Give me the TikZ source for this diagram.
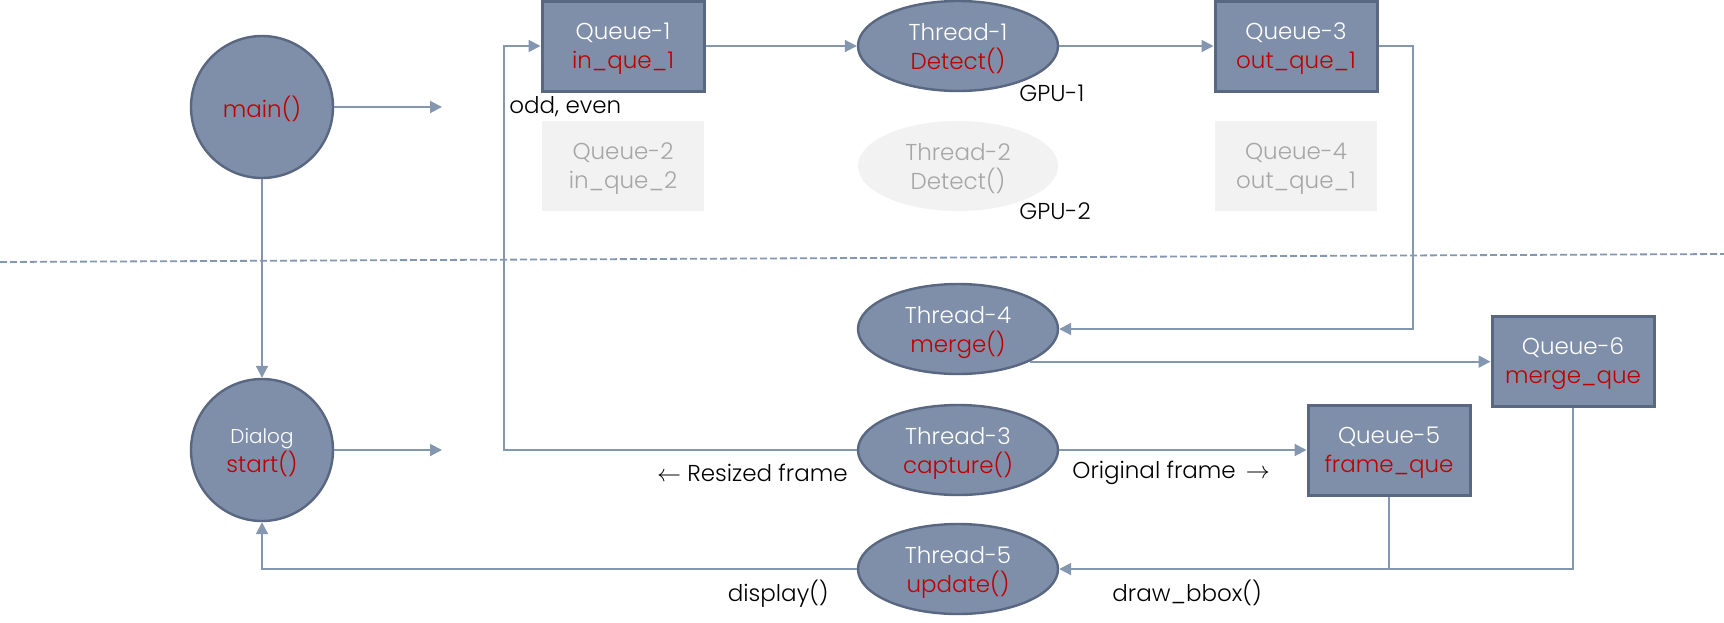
\documentclass[tikz,border=0pt]{standalone}
\usepackage{fontspec}
\setmainfont{Poppins}[UprightFont={* Light}]
\usetikzlibrary{arrows.meta,shapes.geometric}
\definecolor{pagebg}{HTML}{FFFFFF}
\definecolor{textfg}{HTML}{000000}
\definecolor{edge}{HTML}{8497B0}
\definecolor{shapefill}{HTML}{7F8FA9}
\definecolor{shapeline}{HTML}{5A6781}
\definecolor{fnred}{HTML}{C00000}
\definecolor{dimfill}{HTML}{F2F2F2}
\definecolor{dimtext}{HTML}{A6A6A6}
\newcommand{\twoline}[2]{#1\\\textcolor{fnred}{#2}}

\tikzset{
  qbox/.style={rectangle, fill=shapefill, draw=shapeline, line width=1.5pt,
    minimum width=81pt, minimum height=45pt, inner sep=0pt, align=center, text=white,
    text depth=-3.5pt},
  thread/.style={ellipse, fill=shapefill, draw=shapeline, line width=1.2pt,
    minimum width=100pt, minimum height=45pt, inner sep=0pt, align=center, text=white,
    text depth=-3.5pt},
  proc/.style={circle, fill=shapefill, draw=shapeline, line width=1.2pt,
    minimum size=71pt, inner sep=0pt, align=center, text=white, text depth=-2pt},
  dimbox/.style={rectangle, fill=dimfill, minimum width=81pt, minimum height=45pt,
    inner sep=0pt, align=center, text=dimtext, text depth=-3.5pt},
  dimthread/.style={ellipse, fill=dimfill, minimum width=100pt, minimum height=45pt,
    inner sep=0pt, align=center, text=dimtext, text depth=-3.5pt},
  link/.style={edge, line width=1pt, -{Triangle[length=6pt,width=6pt]}},
  plain/.style={edge, line width=1pt},
  note/.style={text=textfg, inner sep=0pt}
}

\begin{document}
\begin{tikzpicture}[
  x=0.5pt,
  y=-0.5pt,
  font=\fontsize{11.5}{14.5}\selectfont,
  line join=miter
]
  \useasboundingbox (0,0) rectangle (1724,622);
  \fill[pagebg] (0,0) rectangle (1724,622);

  % split between the two halves
  \draw[edge, line width=0.9pt, dash pattern=on 3.5pt off 1.5pt] (0,262) -- (1724,254);

  % callers
  \node[proc] (main) at (262,107) {\textcolor{fnred}{main()}};
  \node[proc] (dialog) at (262,450) {{\fontsize{10}{14}\selectfont Dialog}\\\textcolor{fnred}{start()}};
  \coordinate (mainout) at (442,107);
  \coordinate (dialogout) at (442,450);

  % detection stage
  \node[qbox] (q1) at (623,46) {\twoline{Queue-1}{in\_que\_1}};
  \node[dimbox] (q2) at (623,166) {Queue-2\\in\_que\_2};
  \node[thread] (t1) at (958,46) {\twoline{Thread-1}{Detect()}};
  \node[dimthread] (t2) at (958,166) {Thread-2\\Detect()};
  \node[qbox] (q3) at (1296,46) {\twoline{Queue-3}{out\_que\_1}};
  \node[dimbox] (q4) at (1296,166) {Queue-4\\out\_que\_1};

  % capture, merge, update
  \node[thread] (t4) at (958,329) {\twoline{Thread-4}{merge()}};
  \node[thread] (t3) at (958,450) {\twoline{Thread-3}{capture()}};
  \node[thread] (t5) at (958,569) {\twoline{Thread-5}{update()}};
  \node[qbox] (q5) at (1389,450) {\twoline{Queue-5}{frame\_que}};
  \node[qbox] (q6) at (1573,361) {\twoline{Queue-6}{merge\_que}};
  \coordinate (resize) at (504,450);

  % labels
  \node[note, anchor=west] (oddeven) at (509,107) {odd, even};
  \node[note, anchor=west] (gpu1) at (1019,93) {GPU-1};
  \node[note, anchor=west] (gpu2) at (1019,211) {GPU-2};
  \node[note, anchor=east] (resized) at (848,473) {$\leftarrow$ Resized frame};
  \node[note, anchor=west] (original) at (1072,473) {Original frame\, $\rightarrow$};
  \node[note, anchor=east] (display) at (829,594) {display()};
  \node[note, anchor=west] (drawbbox) at (1112,593) {draw\_bbox()};

  % connectors
  \draw[link] (main.east) -- (mainout);
  \draw[link] (dialog.east) -- (dialogout);
  \draw[link] (main.south) -- (dialog.north);
  \draw[link] (t3.west) -- (resize) |- (q1.west);
  \draw[link] (q1.east) -- (t1.west);
  \draw[link] (t1.east) -- (q3.west);
  \draw[link] (q3.east) -- ++(34,0) |- (t4.east);
  \draw[link] (t4.south east) -- (t4.south east -| q6.west);
  \draw[link] (t3.east) -- (q5.west);
  \draw[link] (q5.south) |- (t5.east);
  \draw[plain] (q6.south) |- (q5.south |- t5.east);
  \draw[link] (t5.west) -| (dialog.south);
\end{tikzpicture}
\end{document}
